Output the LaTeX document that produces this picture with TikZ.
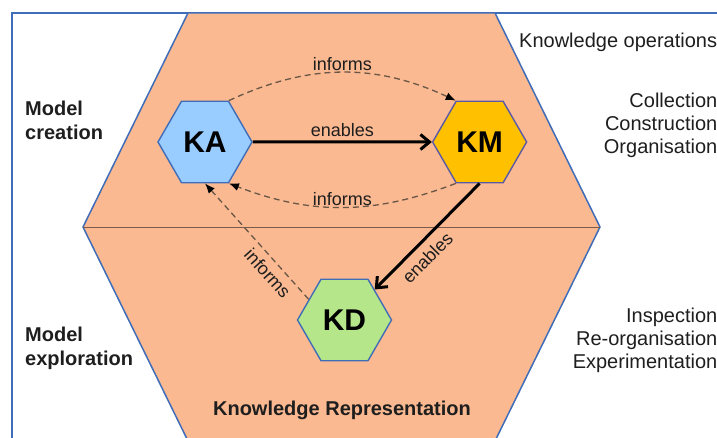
\documentclass[tikz,border=0pt]{standalone}
\usepackage{fontspec}
\setmainfont{Liberation Sans}
\usetikzlibrary{positioning,arrows.meta,shapes.geometric}

\definecolor{framebl}{HTML}{3F6DB8}
\definecolor{salmon}{HTML}{FAB991}
\definecolor{kablue}{HTML}{99CCFF}
\definecolor{kmgold}{HTML}{FFC000}
\definecolor{kdgreen}{HTML}{B5E68A}
\definecolor{dashgray}{HTML}{6A5646}
\definecolor{txtgray}{HTML}{1E1E1E}
\definecolor{splitline}{HTML}{7A5A48}

\begin{document}
\begin{tikzpicture}[
  x=1pt, y=-1pt,
  font=\fontsize{20}{23}\selectfont,
  text=txtgray,
  hexa/.style={draw, regular polygon, regular polygon sides=6, minimum size=94pt, inner sep=0pt, line width=1.4pt, font=\fontsize{30}{30}\selectfont\bfseries, text=black},
  side/.style={inner sep=0pt, align=left, font=\fontsize{20}{24}\selectfont\bfseries},
  ops/.style={inner sep=0pt, align=right},
  strong/.style={-{Straight Barb[length=9pt,width=15pt]}, line width=3pt},
  weak/.style={-{Latex[length=10pt,width=8pt,color=black]}, dash pattern=on 6pt off 4pt, line width=1.3pt, draw=dashgray},
  note/.style={font=\fontsize{18}{18}\selectfont, text=txtgray}
]
\useasboundingbox (0,0) rectangle (717,438);
\clip (0,0) rectangle (717,438);

% frame and knowledge representation
\draw[framebl, line width=1.5pt] (12,438) -- (12,13) -- (717,13);
\filldraw[fill=salmon, draw=framebl, line width=1.5pt] (188,13) -- (495,13) -- (600,227) -- (495,441) -- (188,441) -- (83,227) -- cycle;
\draw[splitline, line width=0.8pt] (83,227) -- (600,227);

% nodes
\node[hexa, fill=kablue, draw=framebl] (KA) at (205,142) {KA};
\node[hexa, fill=kmgold, draw=gray!70!blue, right=179pt of KA] (KM) {KM};
\node[hexa, fill=kdgreen, draw=framebl] (KD) at (344.5,320) {KD};

% side texts
\node[side, anchor=west] (create) at (25,120) {Model\\creation};
\node[side, anchor=west] (explore) at (25,348) {Model\\exploration};
\node[inner sep=0pt, anchor=base west] (kops) at (519,48) {Knowledge operations};
\node[ops, anchor=east] (opsA) at (717.5,125) {Collection\\Construction\\Organisation};
\node[ops, anchor=east] (opsB) at (717.5,340) {Inspection\\Re-organisation\\Experimentation};
\node[font=\fontsize{20}{23}\selectfont\bfseries] (krep) at (342,410) {Knowledge Representation};

% arrows with labels
\draw[strong] (KA) -- node[note, above] {enables} (KM);
\draw[weak] (KA.60) to[bend left=25] node[note, above, inner sep=1pt] {informs} (KM.120);
\draw[weak] (KM.240) to[bend left=21] node[note, above, inner sep=1pt] {informs} (KA.300);
\draw[strong] (KM.south) -- node[note, sloped, below, pos=0.6, inner sep=7pt] {enables} (KD);
\draw[weak] (KD.150) -- node[note, sloped, below, pos=0.3, inner sep=6pt] {informs} (KA.south);

\end{tikzpicture}
\end{document}
